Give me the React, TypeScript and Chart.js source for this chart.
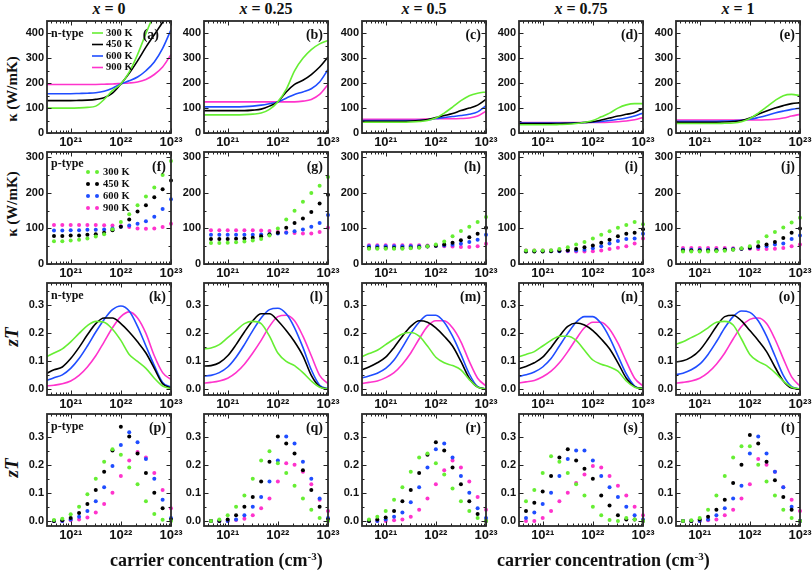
import React, { useEffect, useRef } from "react";
import { Chart, registerables } from "chart.js";
Chart.register(...registerables);

// ---------------- data ----------------
const COMPOSITIONS = ["0", "0.25", "0.5", "0.75", "1"];
const TEMPERATURES = ["300 K", "450 K", "600 K", "900 K"];
const PANEL_LETTERS = ["a", "b", "c", "d", "e", "f", "g", "h", "i", "j", "k", "l", "m", "n", "o", "p", "q", "r", "s", "t"];
// log10 of carrier concentration (cm^-3)
const LINE_LOG_N = [20.5, 20.667, 20.833, 21, 21.167, 21.333, 21.5, 21.667, 21.833, 22, 22.167, 22.333, 22.5, 22.667, 22.833, 23];
const DOT_LOG_N = [20.667, 20.833, 21, 21.167, 21.333, 21.5, 21.667, 21.833, 22, 22.167, 22.333, 22.5, 22.667, 22.833, 23];
const X_MIN = 3.37e20;
const X_MAX = 1e23;
const X_TICKS = [1e21, 1e22, 1e23];
const KAPPA_N_TICKS = [0, 100, 200, 300, 400];
const KAPPA_P_TICKS = [0, 100, 200, 300];
const ZT_TICKS = [0, 0.1, 0.2, 0.3];

// kappa, n-type (W/mK): [300 K, 450 K, 600 K, 900 K]
const KAPPA_N_X0 = [
  [100, 100, 100, 100, 101, 103, 108, 135, 170, 197, 245, 315, 400, 480, 560, 640],
  [130, 130, 130, 130, 131, 132, 135, 142, 160, 197, 240, 290, 345, 395, 445, 500],
  [158, 158, 158, 158, 159, 160, 162, 168, 180, 197, 210, 225, 250, 285, 340, 415],
  [195, 195, 195, 195, 195, 195, 195, 196, 197, 199, 201, 205, 215, 235, 265, 315],
];
const KAPPA_N_X025 = [
  [73, 73, 73, 73, 73, 74, 76, 80, 95, 125, 175, 250, 300, 335, 358, 372],
  [90, 90, 90, 90, 90, 90, 92, 96, 108, 125, 165, 195, 212, 235, 265, 305],
  [105, 105, 105, 105, 105, 106, 108, 112, 118, 125, 140, 155, 165, 178, 205, 255],
  [125, 125, 125, 125, 125, 125, 125, 125, 125, 125, 125, 125, 128, 135, 155, 195],
];
const KAPPA_N_X05 = [
  [43, 43, 43, 43, 43, 43, 44, 46, 50, 60, 80, 104, 130, 150, 160, 165],
  [47, 47, 47, 47, 47, 47, 48, 50, 54, 62, 70, 78, 90, 100, 112, 135],
  [50, 50, 50, 50, 50, 50, 50, 51, 53, 58, 62, 66, 70, 75, 85, 110],
  [55, 55, 55, 55, 55, 55, 55, 55, 56, 57, 57, 57, 58, 60, 68, 88],
];
const KAPPA_N_X075 = [
  [33, 33, 33, 33, 33, 34, 35, 38, 43, 50, 65, 80, 100, 113, 118, 118],
  [38, 38, 38, 38, 38, 38, 39, 40, 42, 45, 52, 60, 68, 75, 82, 100],
  [40, 40, 40, 40, 40, 40, 40, 41, 42, 43, 46, 50, 55, 60, 68, 80],
  [42, 42, 42, 42, 42, 42, 42, 42, 42, 42, 42, 43, 45, 48, 53, 62],
];
const KAPPA_N_X1 = [
  [38, 38, 38, 38, 38, 38, 39, 40, 45, 58, 80, 105, 130, 150, 155, 150],
  [43, 43, 43, 43, 43, 43, 44, 46, 50, 60, 75, 88, 100, 110, 118, 122],
  [47, 47, 47, 47, 47, 47, 48, 49, 51, 55, 62, 70, 80, 88, 95, 100],
  [52, 52, 52, 52, 52, 52, 52, 52, 52, 52, 52, 53, 55, 60, 68, 75],
];

// kappa, p-type (W/mK)
const KAPPA_P_X0 = [
  [64, 64, 66, 68, 72, 77, 84, 98, 118, 140, 165, 190, 215, 250, 290],
  [79, 79, 80, 80, 82, 84, 88, 95, 105, 125, 148, 165, 188, 210, 235],
  [94, 94, 95, 95, 96, 96, 97, 100, 105, 108, 113, 120, 133, 155, 182],
  [110, 110, 110, 110, 110, 110, 109, 108, 106, 104, 100, 99, 100, 104, 113],
];
const KAPPA_P_X025 = [
  [59, 59, 60, 61, 63, 66, 70, 80, 100, 125, 150, 175, 200, 220, 245],
  [70, 70, 70, 71, 72, 74, 78, 83, 88, 102, 115, 128, 146, 170, 195],
  [82, 82, 82, 82, 82, 82, 83, 84, 86, 88, 92, 97, 105, 115, 138],
  [95, 95, 95, 95, 95, 95, 94, 93, 91, 89, 87, 86, 86, 90, 102],
];
const KAPPA_P_X05 = [
  [43, 43, 43, 43, 43, 44, 46, 50, 55, 63, 78, 93, 105, 118, 132],
  [45, 45, 45, 45, 45, 46, 47, 49, 51, 55, 60, 67, 75, 85, 102],
  [50, 50, 50, 50, 50, 50, 50, 50, 51, 52, 54, 57, 62, 68, 82],
  [53, 53, 53, 53, 53, 53, 53, 52, 51, 50, 49, 48, 48, 50, 57],
];
const KAPPA_P_X075 = [
  [38, 38, 38, 39, 42, 47, 55, 62, 72, 82, 92, 102, 110, 118, 112],
  [35, 35, 35, 36, 37, 39, 42, 47, 52, 60, 68, 78, 85, 88, 98],
  [36, 36, 36, 36, 36, 37, 38, 40, 44, 50, 58, 65, 70, 72, 85],
  [38, 38, 38, 38, 37, 36, 35, 35, 36, 38, 42, 46, 50, 58, 72],
];
const KAPPA_P_X1 = [
  [35, 35, 35, 35, 36, 37, 40, 44, 50, 62, 78, 90, 103, 117, 130],
  [38, 38, 38, 38, 39, 40, 41, 43, 46, 50, 55, 62, 73, 88, 100],
  [40, 40, 40, 40, 40, 41, 42, 43, 45, 47, 50, 55, 58, 70, 80],
  [45, 45, 45, 45, 45, 45, 44, 43, 43, 42, 42, 43, 45, 50, 55],
];

// zT, n-type
const ZT_N_X0 = [
  [0.115, 0.13, 0.145, 0.17, 0.2, 0.228, 0.243, 0.24, 0.215, 0.175, 0.125, 0.1, 0.075, 0.04, 0.012, 0.003],
  [0.055, 0.07, 0.08, 0.11, 0.15, 0.195, 0.235, 0.255, 0.255, 0.235, 0.205, 0.17, 0.13, 0.075, 0.02, 0.005],
  [0.03, 0.042, 0.052, 0.075, 0.11, 0.155, 0.205, 0.25, 0.285, 0.298, 0.28, 0.225, 0.155, 0.085, 0.025, 0.008],
  [0.012, 0.015, 0.02, 0.03, 0.05, 0.08, 0.12, 0.17, 0.22, 0.26, 0.277, 0.255, 0.2, 0.12, 0.06, 0.035],
];
const ZT_N_X025 = [
  [0.145, 0.148, 0.16, 0.185, 0.21, 0.235, 0.243, 0.235, 0.19, 0.13, 0.1, 0.085, 0.06, 0.03, 0.008, 0.002],
  [0.083, 0.085, 0.095, 0.12, 0.16, 0.205, 0.245, 0.27, 0.27, 0.245, 0.21, 0.17, 0.12, 0.05, 0.01, 0.002],
  [0.047, 0.05, 0.06, 0.08, 0.115, 0.16, 0.21, 0.255, 0.285, 0.29, 0.27, 0.22, 0.15, 0.07, 0.015, 0.002],
  [0.022, 0.025, 0.03, 0.04, 0.06, 0.09, 0.13, 0.175, 0.225, 0.26, 0.265, 0.245, 0.19, 0.12, 0.05, 0.02],
];
const ZT_N_X05 = [
  [0.115, 0.128, 0.14, 0.16, 0.18, 0.198, 0.203, 0.19, 0.155, 0.115, 0.095, 0.085, 0.07, 0.035, 0.008, 0.002],
  [0.068, 0.08, 0.095, 0.115, 0.15, 0.19, 0.225, 0.245, 0.24, 0.22, 0.19, 0.155, 0.1, 0.04, 0.008, 0.002],
  [0.04, 0.048, 0.058, 0.075, 0.105, 0.15, 0.2, 0.24, 0.265, 0.265, 0.24, 0.19, 0.125, 0.055, 0.01, 0.002],
  [0.02, 0.025, 0.03, 0.042, 0.06, 0.09, 0.13, 0.18, 0.225, 0.245, 0.245, 0.22, 0.17, 0.1, 0.04, 0.012],
];
const ZT_N_X075 = [
  [0.115, 0.125, 0.135, 0.155, 0.175, 0.19, 0.19, 0.175, 0.14, 0.105, 0.09, 0.08, 0.065, 0.03, 0.008, 0.003],
  [0.072, 0.082, 0.095, 0.115, 0.15, 0.19, 0.225, 0.237, 0.23, 0.21, 0.18, 0.145, 0.095, 0.04, 0.01, 0.003],
  [0.045, 0.052, 0.062, 0.08, 0.11, 0.155, 0.2, 0.24, 0.26, 0.26, 0.235, 0.185, 0.12, 0.055, 0.012, 0.003],
  [0.022, 0.027, 0.032, 0.045, 0.065, 0.095, 0.135, 0.18, 0.22, 0.24, 0.24, 0.215, 0.165, 0.1, 0.04, 0.012],
];
const ZT_N_X1 = [
  [0.16, 0.17, 0.185, 0.2, 0.22, 0.24, 0.243, 0.23, 0.18, 0.125, 0.1, 0.085, 0.06, 0.03, 0.008, 0.002],
  [0.098, 0.102, 0.115, 0.14, 0.18, 0.225, 0.26, 0.265, 0.245, 0.21, 0.175, 0.135, 0.08, 0.03, 0.005, 0.002],
  [0.052, 0.058, 0.07, 0.09, 0.125, 0.17, 0.22, 0.26, 0.28, 0.275, 0.245, 0.19, 0.12, 0.05, 0.01, 0.002],
  [0.022, 0.025, 0.03, 0.04, 0.06, 0.09, 0.13, 0.18, 0.225, 0.25, 0.255, 0.235, 0.18, 0.11, 0.045, 0.012],
];

// zT, p-type
const ZT_P_X0 = [
  [0.003, 0.008, 0.024, 0.05, 0.095, 0.15, 0.21, 0.255, 0.235, 0.19, 0.13, 0.07, 0.025, 0.004, 0.0],
  [0.0, 0.002, 0.01, 0.028, 0.06, 0.11, 0.175, 0.25, 0.335, 0.3, 0.24, 0.17, 0.1, 0.045, 0.005],
  [0.0, 0.0, 0.005, 0.015, 0.035, 0.07, 0.12, 0.195, 0.27, 0.315, 0.28, 0.22, 0.15, 0.075, 0.01],
  [0.0, 0.0, 0.002, 0.005, 0.012, 0.03, 0.06, 0.1, 0.16, 0.215, 0.245, 0.225, 0.17, 0.11, 0.045],
];
const ZT_P_X025 = [
  [0.0, 0.005, 0.02, 0.05, 0.09, 0.15, 0.215, 0.248, 0.205, 0.17, 0.125, 0.08, 0.04, 0.01, 0.0],
  [0.0, 0.0, 0.005, 0.02, 0.05, 0.085, 0.14, 0.21, 0.3, 0.275, 0.24, 0.18, 0.11, 0.05, 0.005],
  [0.0, 0.0, 0.0, 0.005, 0.02, 0.05, 0.085, 0.14, 0.215, 0.3, 0.275, 0.21, 0.15, 0.08, 0.01],
  [0.0, 0.0, 0.0, 0.003, 0.008, 0.02, 0.045, 0.08, 0.14, 0.205, 0.2, 0.175, 0.13, 0.075, 0.035],
];
const ZT_P_X05 = [
  [0.005, 0.015, 0.035, 0.075, 0.12, 0.175, 0.225, 0.24, 0.205, 0.165, 0.115, 0.07, 0.035, 0.01, 0.0],
  [0.0, 0.005, 0.012, 0.035, 0.07, 0.11, 0.17, 0.235, 0.28, 0.25, 0.19, 0.13, 0.07, 0.025, 0.0],
  [0.0, 0.0, 0.005, 0.015, 0.03, 0.066, 0.12, 0.19, 0.255, 0.275, 0.225, 0.16, 0.1, 0.045, 0.01],
  [0.0, 0.0, 0.0, 0.002, 0.005, 0.015, 0.04, 0.08, 0.13, 0.18, 0.215, 0.19, 0.14, 0.085, 0.04],
];
const ZT_P_X075 = [
  [0.07, 0.11, 0.17, 0.23, 0.21, 0.17, 0.13, 0.09, 0.05, 0.02, 0.003, 0.0, 0.01, 0.005, 0.0],
  [0.035, 0.065, 0.105, 0.16, 0.225, 0.255, 0.215, 0.185, 0.15, 0.09, 0.055, 0.02, 0.005, 0.005, 0.0],
  [0.01, 0.03, 0.06, 0.1, 0.16, 0.22, 0.25, 0.25, 0.215, 0.16, 0.12, 0.085, 0.05, 0.02, 0.005],
  [0.0, 0.0, 0.01, 0.035, 0.07, 0.1, 0.135, 0.165, 0.195, 0.19, 0.16, 0.125, 0.09, 0.05, 0.02],
];
const ZT_P_X1 = [
  [0.0, 0.002, 0.01, 0.04, 0.09, 0.16, 0.225, 0.265, 0.265, 0.2, 0.14, 0.09, 0.04, 0.01, 0.0],
  [0.0, 0.0, 0.005, 0.015, 0.04, 0.075, 0.135, 0.2, 0.305, 0.275, 0.21, 0.145, 0.085, 0.04, 0.0],
  [0.0, 0.0, 0.0, 0.005, 0.02, 0.045, 0.08, 0.125, 0.24, 0.3, 0.24, 0.175, 0.12, 0.05, 0.0],
  [0.0, 0.0, 0.0, 0.002, 0.005, 0.02, 0.04, 0.08, 0.13, 0.22, 0.2, 0.175, 0.12, 0.075, 0.035],
];

// ---------------- styling / layout ----------------
const COLORS = ["#66ee33", "#000000", "#1f4dff", "#ff33cc"];
const SERIF = '"Liberation Serif", "Times New Roman", serif';
const SANS = '"Liberation Sans", Arial, sans-serif';
const COL_LEFTS = [47, 204, 362, 519, 676];
const ROW_TOPS = [21, 152, 283, 414];
const PLOT_W = 124;
const PLOT_H = 112;
const PAD_L = 40, PAD_R = 14, PAD_T = 8, PAD_B = 22;

type RowDef = {
  data: number[][][];
  kind: "line" | "dot";
  yMin: number;
  yMax: number;
  yTicks: number[];
  yMinor: number;
  decimals: number;
  tag: string;
  yLabel: string;
  italic: boolean;
};

const ROWS: RowDef[] = [
  { data: [KAPPA_N_X0, KAPPA_N_X025, KAPPA_N_X05, KAPPA_N_X075, KAPPA_N_X1], kind: "line", yMin: 0, yMax: 450, yTicks: KAPPA_N_TICKS, yMinor: 50, decimals: 0, tag: "n-type", yLabel: "κ (W/mK)", italic: false },
  { data: [KAPPA_P_X0, KAPPA_P_X025, KAPPA_P_X05, KAPPA_P_X075, KAPPA_P_X1], kind: "dot", yMin: 0, yMax: 315, yTicks: KAPPA_P_TICKS, yMinor: 50, decimals: 0, tag: "p-type", yLabel: "κ (W/mK)", italic: false },
  { data: [ZT_N_X0, ZT_N_X025, ZT_N_X05, ZT_N_X075, ZT_N_X1], kind: "line", yMin: -0.02, yMax: 0.38, yTicks: ZT_TICKS, yMinor: 0.05, decimals: 1, tag: "n-type", yLabel: "zT", italic: true },
  { data: [ZT_P_X0, ZT_P_X025, ZT_P_X05, ZT_P_X075, ZT_P_X1], kind: "dot", yMin: -0.018, yMax: 0.38, yTicks: ZT_TICKS, yMinor: 0.05, decimals: 1, tag: "p-type", yLabel: "zT", italic: true },
];

const SUP: Record<string, string> = { "0": "⁰", "1": "¹", "2": "²", "3": "³", "4": "⁴", "5": "⁵", "6": "⁶", "7": "⁷", "8": "⁸", "9": "⁹" };
const powLabel = (v: number) => "10" + String(Math.round(Math.log10(v))).split("").map((d) => SUP[d]).join("");

const decorPlugin = {
  id: "decor",
  afterDatasetsDraw(chart: any, _args: any, o: any) {
    const { ctx, chartArea: a, scales } = chart;
    const xs = scales.x;
    const ys = scales.y;
    ctx.save();
    ctx.strokeStyle = "#222";
    ctx.lineWidth = 1;
    ctx.beginPath();
    for (let e = 20; e <= 23; e++) {
      for (let m = 1; m <= 9; m++) {
        const v = m * Math.pow(10, e);
        if (v < xs.min * 0.999 || v > xs.max * 1.001) continue;
        const p = Math.round(xs.getPixelForValue(v)) + 0.5;
        const len = m === 1 ? 4.5 : 2.5;
        ctx.moveTo(p, a.bottom);
        ctx.lineTo(p, a.bottom - len);
        ctx.moveTo(p, a.top);
        ctx.lineTo(p, a.top + len);
      }
    }
    for (let k = 0; k < 40; k++) {
      const v = k * o.yMinor;
      if (v > ys.max) break;
      const p = Math.round(ys.getPixelForValue(v)) + 0.5;
      const len = k % 2 === 0 ? 4.5 : 2.5;
      ctx.moveTo(a.left, p);
      ctx.lineTo(a.left + len, p);
      ctx.moveTo(a.right, p);
      ctx.lineTo(a.right - len, p);
    }
    ctx.stroke();
    ctx.lineWidth = 1.8;
    ctx.strokeStyle = "#2a2a2a";
    ctx.strokeRect(a.left, a.top, a.right - a.left, a.bottom - a.top);

    ctx.fillStyle = "#111";
    ctx.font = `bold 14px ${SERIF}`;
    ctx.textAlign = "right";
    ctx.textBaseline = "middle";
    ctx.fillText(`(${o.letter})`, a.right - o.letterInset, a.top + o.letterDy);

    if (o.tag) {
      ctx.font = `bold 12px ${SERIF}`;
      ctx.textAlign = "left";
      ctx.fillText(o.tag, a.left + 4, a.top + o.tagDy);
    }
    if (o.legend) {
      const ds = chart.data.datasets;
      ctx.font = `bold 10.5px ${SERIF}`;
      ctx.textAlign = "left";
      ds.forEach((d: any, i: number) => {
        if (o.legend === "line") {
          const y = a.top + 12 + i * 11.5;
          ctx.strokeStyle = d.borderColor;
          ctx.lineWidth = 1.6;
          ctx.beginPath();
          ctx.moveTo(a.left + 45, y);
          ctx.lineTo(a.left + 56, y);
          ctx.stroke();
          ctx.fillStyle = "#111";
          ctx.fillText(d.label, a.left + 59, y);
        } else {
          const y = a.top + 20 + i * 12;
          ctx.fillStyle = d.backgroundColor;
          [41, 50].forEach((dx) => {
            ctx.beginPath();
            ctx.arc(a.left + dx, y, 2, 0, Math.PI * 2);
            ctx.fill();
          });
          ctx.fillStyle = "#111";
          ctx.fillText(d.label, a.left + 56, y);
        }
      });
    }
    ctx.restore();
  },
};

function Panel({ row, col }: { row: number; col: number }) {
  const ref = useRef<HTMLCanvasElement | null>(null);
  useEffect(() => {
    const r = ROWS[row];
    const series = r.data[col];
    const xsLog = r.kind === "line" ? LINE_LOG_N : DOT_LOG_N;
    const datasets = series.map((vals, i) => ({
      label: TEMPERATURES[i],
      data: vals.map((v, j) => ({ x: Math.pow(10, xsLog[j]), y: v })),
      showLine: r.kind === "line",
      borderColor: COLORS[i],
      backgroundColor: COLORS[i],
      borderWidth: 1.6,
      pointRadius: r.kind === "line" ? 0 : 2,
      pointBorderWidth: 0,
      pointHoverRadius: 0,
      cubicInterpolationMode: "monotone",
      clip: r.kind === "line" ? 0 : 3,
    }));
    const chart = new Chart(ref.current as HTMLCanvasElement, {
      type: "scatter",
      data: { datasets: datasets as any },
      plugins: [decorPlugin as any],
      options: {
        responsive: false,
        animation: false,
        devicePixelRatio: 1,
        events: [],
        layout: { padding: { left: 0, right: PAD_R, top: PAD_T, bottom: 0 } },
        plugins: {
          legend: { display: false },
          tooltip: { enabled: false },
          decor: {
            letter: PANEL_LETTERS[row * 5 + col],
            letterInset: row === 0 && col === 0 ? 12 : 5,
            letterDy: row === 1 ? 15 : 14,
            tag: col === 0 ? r.tag : null,
            tagDy: row === 1 ? 12 : 13,
            legend: col === 0 && row < 2 ? r.kind : null,
            yMinor: r.yMinor,
          },
        } as any,
        scales: {
          x: {
            type: "logarithmic",
            min: X_MIN,
            max: X_MAX,
            grid: { display: false, drawTicks: false },
            border: { display: false },
            ticks: {
              autoSkip: false,
              maxRotation: 0,
              minRotation: 0,
              padding: 2,
              color: "#111",
              font: { family: SANS, size: 13, weight: "bold" as const },
              callback: (v: any) => powLabel(Number(v)),
            },
            afterBuildTicks: (s: any) => {
              s.ticks = X_TICKS.map((v) => ({ value: v }));
            },
            afterFit: (s: any) => {
              s.height = PAD_B;
              s.paddingLeft = 0;
              s.paddingRight = 0;
            },
          },
          y: {
            type: "linear",
            min: r.yMin,
            max: r.yMax,
            grid: { display: false, drawTicks: false },
            border: { display: false },
            ticks: {
              padding: 3,
              color: "#111",
              font: { family: SANS, size: 11, weight: "bold" as const },
              callback: (v: any) => Number(v).toFixed(r.decimals),
            },
            afterBuildTicks: (s: any) => {
              s.ticks = r.yTicks.map((v) => ({ value: v }));
            },
            afterFit: (s: any) => {
              s.width = PAD_L;
              s.paddingTop = 0;
              s.paddingBottom = 0;
            },
          },
        },
      } as any,
    });
    return () => chart.destroy();
  }, [row, col]);
  const w = PAD_L + PLOT_W + PAD_R;
  const h = PAD_T + PLOT_H + PAD_B;
  return (
    <canvas
      ref={ref}
      width={w}
      height={h}
      style={{ position: "absolute", left: COL_LEFTS[col] - PAD_L, top: ROW_TOPS[row] - PAD_T, width: w, height: h }}
    />
  );
}

export default function App() {
  const bold = { fontFamily: SERIF, fontWeight: "bold" as const, color: "#111" };
  return (
    <div style={{ position: "fixed", left: 0, top: 0, width: 812, height: 574, background: "#fff", overflow: "hidden" }}>
      {COMPOSITIONS.map((c, i) => (
        <div key={"t" + i} style={{ ...bold, position: "absolute", left: COL_LEFTS[i] + PLOT_W / 2 - 60, width: 120, top: 0, textAlign: "center", fontSize: 16, lineHeight: "17px" }}>
          <i>x</i> = {c}
        </div>
      ))}
      {ROWS.map((r, i) => (
        <div
          key={"y" + i}
          style={{
            ...bold,
            position: "absolute",
            left: 12,
            top: ROW_TOPS[i] + PLOT_H / 2 + (i === 0 ? 12 : i === 1 ? -4 : -2),
            transform: "translate(-50%, -50%) rotate(-90deg)",
            whiteSpace: "nowrap",
            fontSize: r.italic ? 19 : 15,
            fontStyle: r.italic ? "italic" : "normal",
            lineHeight: "18px",
          }}
        >
          {r.yLabel}
        </div>
      ))}
      {ROWS.map((_r, ri) => COL_LEFTS.map((_c, ci) => <Panel key={ri + "-" + ci} row={ri} col={ci} />))}
      {[110, 497].map((x, i) => (
        <div key={"b" + i} style={{ ...bold, position: "absolute", left: x, top: 549, fontSize: 18, lineHeight: "22px", whiteSpace: "nowrap" }}>
          carrier concentration (cm<sup style={{ fontSize: 11, verticalAlign: "6px", lineHeight: 0 }}>-3</sup>)
        </div>
      ))}
    </div>
  );
}
